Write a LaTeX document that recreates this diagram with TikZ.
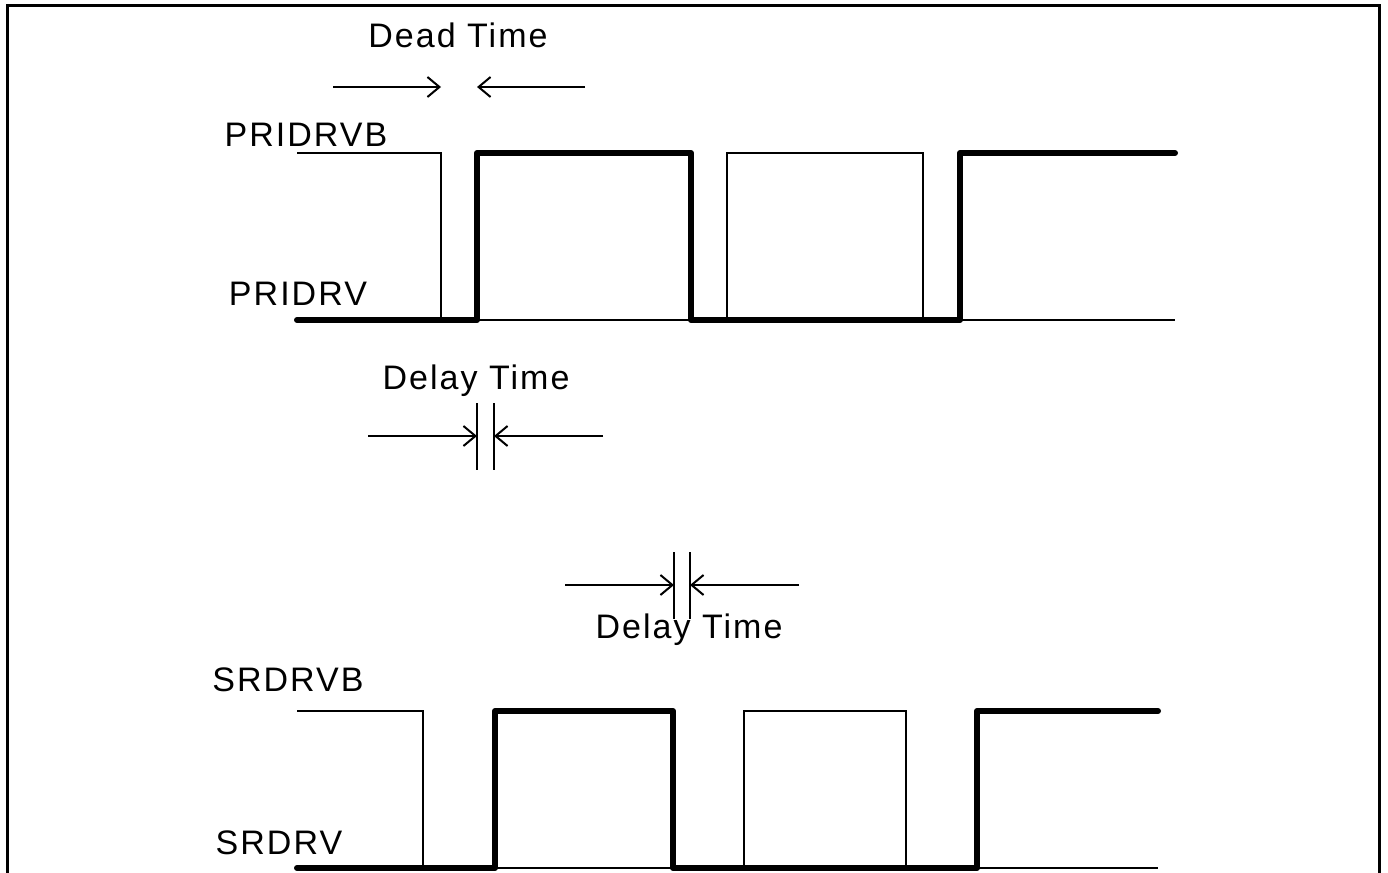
\documentclass[tikz,border=0pt]{standalone}
\usepackage{fontspec}
\setmainfont[LetterSpace=6]{Liberation Sans}
\usetikzlibrary{arrows.meta}
\begin{document}
\begin{tikzpicture}[x=.5pt,y=-.5pt,
  lo/.style={line width=1pt},
  hi/.style={line width=3pt, line cap=round, line join=round},
  lbl/.style={font=\fontsize{17}{20}\selectfont, anchor=base, inner sep=0pt},
  dim/.style={line width=1pt, -{Straight Barb[length=6pt,width=10pt]}}]
\useasboundingbox (0,0) rectangle (1388,873);
\draw[line width=1.5pt] (7,873) -- (7,5) -- (1379,5) -- (1379,873);
% primary side
\node[lbl] (pb) at (306,146) {PRIDRVB};
\node[lbl] (pv) at (298,305) {PRIDRV};
\draw[lo] (297,153) -| (441,320) -| (727,153) -| (923,320) -- (1175,320);
\draw[hi] (297,320) -| (477,153) -| (691,320) -| (960,153) -- (1175,153);
% dead time
\node[lbl] (dead) at (458,47) {Dead Time};
\coordinate (d1) at (333,87); \coordinate (d2) at (441,87);
\coordinate (d3) at (585,87); \coordinate (d4) at (477,87);
\draw[dim] (d1) -- (d2);
\draw[dim] (d3) -- (d4);
% delay times
\node[lbl] (dly1) at (476,389) {Delay Time};
\node[lbl] (dly2) at (689,638) {Delay Time};
\foreach \n/\a/\b/\y/\l/\r in {1/477/494/436/368/603, 2/674/690/585/565/799}{
  \coordinate (a\n) at (\a,\y); \coordinate (b\n) at (\b,\y);
  \coordinate (l\n) at (\l,\y); \coordinate (r\n) at (\r,\y);
  \draw[lo] (a\n) ++(0,-33) -- ++(0,67);
  \draw[lo] (b\n) ++(0,-33) -- ++(0,67);
  \draw[dim] (l\n) -- (a\n);
  \draw[dim] (r\n) -- (b\n);
}
% secondary side
\node[lbl] (sb) at (288,691) {SRDRVB};
\node[lbl] (sv) at (279,854) {SRDRV};
\draw[lo] (297,711) -| (423,868) -| (744,711) -| (906,868) -- (1158,868);
\draw[hi] (297,868) -| (495,711) -| (673,868) -| (977,711) -- (1158,711);
\end{tikzpicture}
\end{document}
